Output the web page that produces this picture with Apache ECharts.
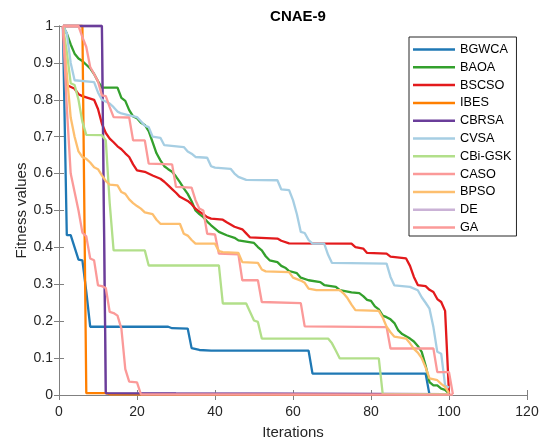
<!DOCTYPE html>
<html>
<head>
    <meta charset="utf-8">
    <title>CNAE-9</title>
    <script src="https://cdn.jsdelivr.net/npm/echarts@6/dist/echarts.min.js"></script>
    <style>
        html, body { margin: 0; padding: 0; background: #fff; }
    </style>
</head>
<body>
    <div id="main" style="width: 539px;height:441px;"></div>
    <script type="text/javascript">
        // convergence curves, [iteration, fitness]
        var bgwca = [[1,1],[2,0.433],[3,0.433],[4,0.4],[5,0.367],[6,0.365],[7,0.28],[8,0.185],[28,0.185],[29,0.181],[33,0.18],[34,0.127],[36,0.122],[39,0.12],[64,0.12],[65,0.058],[94,0.058],[95,0.001],[100,0.001]];
        var baoa = [[1,1],[2,0.98],[3,0.95],[4,0.925],[5,0.912],[6,0.905],[7,0.895],[8,0.885],[9,0.87],[10,0.85],[11,0.833],[15,0.833],[16,0.805],[17,0.797],[18,0.772],[19,0.755],[20,0.75],[21,0.738],[22,0.732],[23,0.715],[24,0.685],[25,0.655],[26,0.636],[27,0.62],[28,0.612],[29,0.605],[30,0.592],[31,0.577],[32,0.56],[33,0.545],[34,0.525],[35,0.5],[36,0.49],[37,0.482],[38,0.47],[39,0.46],[40,0.451],[41,0.442],[43,0.433],[45,0.426],[46,0.419],[50,0.412],[51,0.401],[52,0.392],[53,0.376],[54,0.365],[56,0.36],[57,0.35],[58,0.345],[59,0.336],[61,0.33],[62,0.318],[64,0.311],[67,0.306],[68,0.298],[71,0.293],[72,0.284],[75,0.278],[77,0.276],[78,0.268],[79,0.258],[80,0.255],[81,0.24],[82,0.232],[83,0.215],[84,0.211],[85,0.205],[86,0.195],[87,0.175],[88,0.165],[90,0.153],[91,0.145],[92,0.133],[93,0.117],[94,0.08],[95,0.035],[96,0.026],[97,0.026],[98,0.017],[99,0.014],[100,0.004]];
        var bscso = [[1,1],[2,0.84],[4,0.83],[5,0.815],[6,0.81],[9,0.8],[10,0.775],[11,0.735],[12,0.71],[13,0.695],[14,0.685],[15,0.674],[16,0.666],[17,0.655],[18,0.645],[19,0.625],[20,0.609],[22,0.605],[24,0.595],[26,0.586],[27,0.578],[28,0.568],[29,0.558],[30,0.548],[31,0.537],[33,0.526],[34,0.517],[35,0.505],[36,0.497],[37,0.49],[38,0.482],[39,0.478],[42,0.475],[43,0.468],[44,0.462],[45,0.456],[47,0.449],[48,0.438],[49,0.427],[56,0.424],[57,0.418],[59,0.411],[75,0.41],[76,0.401],[78,0.397],[79,0.385],[84,0.383],[85,0.375],[89,0.37],[90,0.35],[91,0.32],[92,0.298],[94,0.295],[95,0.285],[96,0.279],[97,0.26],[98,0.252],[99,0.228],[100,0.004]];
        var ibes = [[1,1],[6,1],[7,0.005],[12,0.005],[13,0.002],[100,0.001]];
        var cbrsa = [[1,1],[11,1],[12,0.005],[30,0.004],[100,0.002]];
        var cvsa = [[1,1],[2,0.98],[3,0.9],[4,0.853],[9,0.848],[10,0.82],[11,0.8],[13,0.79],[14,0.78],[15,0.768],[16,0.763],[18,0.758],[20,0.753],[21,0.742],[22,0.73],[23,0.726],[24,0.7],[26,0.697],[27,0.677],[32,0.672],[33,0.66],[34,0.654],[35,0.645],[38,0.643],[39,0.62],[40,0.616],[44,0.613],[45,0.6],[46,0.591],[48,0.583],[56,0.582],[57,0.557],[59,0.555],[60,0.528],[61,0.49],[62,0.442],[63,0.439],[64,0.42],[65,0.41],[68,0.41],[69,0.38],[70,0.358],[84,0.356],[85,0.32],[86,0.297],[90,0.293],[92,0.284],[93,0.265],[94,0.25],[95,0.234],[96,0.184],[97,0.117],[98,0.112],[99,0.026],[100,0.02]];
        var cbigsk = [[1,1],[2,0.93],[3,0.845],[4,0.84],[5,0.8],[6,0.74],[7,0.705],[11,0.704],[12,0.69],[13,0.52],[14,0.392],[22,0.392],[23,0.351],[41,0.351],[42,0.248],[48,0.248],[49,0.225],[50,0.202],[51,0.198],[52,0.153],[69,0.153],[70,0.14],[71,0.12],[72,0.099],[82,0.099],[83,0.003],[100,0.002]];
        var caso = [[1,1],[5,1],[6,0.97],[7,0.943],[8,0.889],[9,0.87],[10,0.85],[11,0.812],[12,0.81],[13,0.78],[14,0.753],[18,0.752],[19,0.69],[22,0.69],[23,0.627],[29,0.625],[30,0.564],[34,0.562],[35,0.528],[36,0.505],[37,0.5],[38,0.437],[40,0.435],[41,0.383],[46,0.381],[47,0.311],[51,0.311],[52,0.252],[62,0.249],[63,0.186],[84,0.184],[85,0.126],[96,0.126],[97,0.062],[100,0.062],[101,0.002]];
        var bpso = [[1,1],[2,0.87],[3,0.752],[4,0.7],[5,0.66],[6,0.645],[7,0.64],[8,0.63],[9,0.617],[10,0.612],[11,0.595],[12,0.58],[13,0.57],[15,0.568],[16,0.55],[17,0.545],[18,0.53],[19,0.52],[20,0.512],[21,0.505],[22,0.495],[24,0.49],[25,0.475],[26,0.464],[31,0.464],[32,0.437],[33,0.432],[34,0.42],[35,0.41],[40,0.41],[41,0.39],[42,0.387],[46,0.385],[47,0.36],[51,0.358],[52,0.34],[53,0.335],[59,0.333],[60,0.318],[62,0.31],[63,0.304],[64,0.288],[66,0.284],[72,0.284],[73,0.275],[74,0.262],[75,0.245],[76,0.23],[82,0.228],[83,0.21],[84,0.185],[85,0.17],[86,0.158],[89,0.153],[90,0.14],[91,0.125],[92,0.115],[93,0.1],[94,0.075],[95,0.045],[97,0.04],[98,0.03],[99,0.022],[100,0.005]];
        var de = [[1,1],[11,1],[12,0.004],[100,0.002]];
        var ga = [[1,1],[2,0.78],[3,0.6],[4,0.55],[5,0.5],[6,0.44],[7,0.43],[8,0.37],[9,0.365],[10,0.297],[11,0.295],[12,0.29],[13,0.225],[14,0.222],[15,0.215],[16,0.18],[17,0.07],[18,0.036],[20,0.034],[21,0.002],[101,0.001]];

        var names = ['BGWCA','BAOA','BSCSO','IBES','CBRSA','CVSA','CBi-GSK','CASO','BPSO','DE','GA'];
        var curves = [bgwca, baoa, bscso, ibes, cbrsa, cvsa, cbigsk, caso, bpso, de, ga];
        var colors = ['#1f78b4','#33a02c','#e31a1c','#ff7f00','#6a3d9a','#a6cee3','#b2df8a','#fb9a99','#fdbf6f','#cab2d6','#fb9a99'];
        var xTicks = [0, 120, 20];
        var yTicks = [0, 1, 0.1];

        var font = '"Liberation Sans", Arial, Helvetica, sans-serif';
        var axisGray = '#808080';
        var textCol = '#262626';

        var myChart = echarts.init(document.getElementById('main'), null, {renderer: 'canvas'});

        var series = [];
        for (var i = 0; i < names.length; i++) {
            series.push({
                name: names[i],
                type: 'line',
                data: curves[i],
                symbol: 'none',
                clip: false,
                z: names[i] === 'DE' ? 1 : 2,
                lineStyle: {color: colors[i], width: 2.3},
                itemStyle: {color: colors[i]},
                emphasis: {disabled: true}
            });
        }

        var option = {
            backgroundColor: '#fff',
            animation: false,
            title: {
                text: 'CNAE-9',
                left: 293,
                top: 4,
                textAlign: 'center',
                textStyle: {fontFamily: font, fontSize: 15, fontWeight: 'bold', color: '#000'}
            },
            legend: {
                data: names,
                orient: 'vertical',
                left: 409,
                top: 37,
                icon: 'rect',
                itemWidth: 42,
                itemHeight: 2.5,
                itemGap: 4.8,
                itemTextGap: 4,
                padding: [6, 5, 2, 4],
                borderColor: textCol,
                borderWidth: 1,
                backgroundColor: '#fff',
                textStyle: {fontFamily: font, fontSize: 12.7, color: '#000', lineHeight: 13}
            },
            grid: {left: 59, top: 26, width: 468, height: 369, containLabel: false, outerBoundsMode: 'none'},
            xAxis: [{
                type: 'value',
                min: xTicks[0], max: xTicks[1], interval: xTicks[2],
                name: 'Iterations',
                nameLocation: 'middle',
                nameGap: 30,
                nameTextStyle: {fontFamily: font, fontSize: 15, color: textCol},
                axisLine: {show: true, lineStyle: {color: axisGray, width: 1}},
                axisTick: {show: true, inside: true, length: 5, lineStyle: {color: axisGray}},
                axisLabel: {fontFamily: font, fontSize: 14, color: textCol, margin: 10},
                splitLine: {show: false}
            }, {
                type: 'value',
                position: 'top',
                min: xTicks[0], max: xTicks[1], interval: xTicks[2],
                axisLine: {show: true, lineStyle: {color: axisGray, width: 1}},
                axisTick: {show: true, inside: true, length: 5, lineStyle: {color: axisGray}},
                axisLabel: {show: false},
                splitLine: {show: false}
            }],
            yAxis: [{
                type: 'value',
                min: yTicks[0], max: yTicks[1], interval: yTicks[2],
                name: 'Fitness values',
                nameLocation: 'middle',
                nameGap: 30,
                nameMoveOverlap: false,
                nameTextStyle: {fontFamily: font, fontSize: 15, color: textCol},
                axisLine: {show: true, lineStyle: {color: axisGray, width: 1}},
                axisTick: {show: true, inside: true, length: 5, lineStyle: {color: axisGray}},
                axisLabel: {fontFamily: font, fontSize: 14, color: textCol, margin: 6,
                    formatter: function (v) { return String(Math.round(v * 10) / 10); }},
                splitLine: {show: false}
            }, {
                type: 'value',
                position: 'right',
                min: yTicks[0], max: yTicks[1], interval: yTicks[2],
                axisLine: {show: true, lineStyle: {color: axisGray, width: 1}},
                axisTick: {show: true, inside: true, length: 5, lineStyle: {color: axisGray}},
                axisLabel: {show: false},
                splitLine: {show: false}
            }],
            series: series
        };

        myChart.setOption(option);
    </script>
</body>
</html>
